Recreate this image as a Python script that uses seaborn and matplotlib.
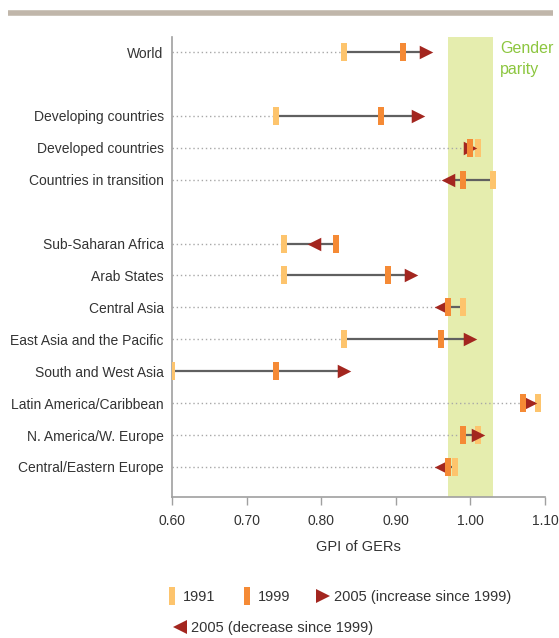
import numpy as np
import pandas as pd
import matplotlib
matplotlib.use("Agg")
import matplotlib.pyplot as plt
from matplotlib.lines import Line2D
import seaborn as sns

# data (GPI of gross enrolment ratios)
regions = ['World', '', 'Developing countries', 'Developed countries',
           'Countries in transition', '', 'Sub-Saharan Africa', 'Arab States',
           'Central Asia', 'East Asia and the Pacific', 'South and West Asia',
           'Latin America/Caribbean', 'N. America/W. Europe',
           'Central/Eastern Europe']
gpi_1991 = [0.83, 0.74, 1.01, 1.03, 0.75, 0.75, 0.99, 0.83, 0.60, 1.09, 1.01, 0.98]
gpi_1999 = [0.91, 0.88, 1.00, 0.99, 0.82, 0.89, 0.97, 0.96, 0.74, 1.07, 0.99, 0.97]
gpi_2005 = [0.94, 0.93, 1.00, 0.97, 0.79, 0.92, 0.96, 1.00, 0.83, 1.08, 1.01, 0.96]
x_ticks = [0.60, 0.70, 0.80, 0.90, 1.00, 1.10]
parity_band = (0.97, 1.03)

# colours
c_1991 = '#fdc46d'
c_1999 = '#f58a35'
c_2005 = '#a3261f'
c_text = '#333333'
c_axis = '#a0a0a0'

sns.set_style('white')
plt.rcParams['font.family'] = ['Liberation Sans', 'DejaVu Sans']

rows = [i for i, r in enumerate(regions) if r]
labels = [r for r in regions if r]
df = pd.DataFrame({'row': rows, 'region': labels,
                   'g1991': gpi_1991, 'g1999': gpi_1999, 'g2005': gpi_2005})
df['up'] = df['g2005'] >= df['g1999']
df['lo'] = df[['g1991', 'g1999', 'g2005']].min(axis=1)
df['hi'] = df[['g1991', 'g1999', 'g2005']].max(axis=1)

bar = [(-0.16, -0.5), (0.16, -0.5), (0.16, 0.5), (-0.16, 0.5)]

fig = plt.figure(figsize=(5.59, 6.38), dpi=100)
ax = fig.add_axes([172 / 559, 1 - 497 / 638, 373 / 559, 460 / 638])

ax.axvspan(*parity_band, color='#e5edae', lw=0, zorder=0)
ax.text(1.04, -0.33, 'Gender\nparity', color='#8cc63f', fontsize=11.5,
        va='top', ha='left', linespacing=1.45)

# dotted guide from the axis, solid range between the years
ax.hlines(df['row'], 0.60, df['lo'], color='#a8a8a8', lw=1,
          linestyles=(0, (1, 2)), zorder=1)
ax.hlines(df['row'], df['lo'], df['hi'], color='#606060', lw=1.6, zorder=2)

sns.scatterplot(data=df, x='g1991', y='row', marker=bar, s=150,
                color=c_1991, linewidth=0, ax=ax, zorder=3)
sns.scatterplot(data=df[df['up']], x='g2005', y='row', marker='>', s=95,
                color=c_2005, linewidth=0, ax=ax, zorder=4)
sns.scatterplot(data=df[~df['up']], x='g2005', y='row', marker='<', s=95,
                color=c_2005, linewidth=0, ax=ax, zorder=4)
sns.scatterplot(data=df, x='g1999', y='row', marker=bar, s=150,
                color=c_1999, linewidth=0, ax=ax, zorder=5)

ax.set_xlim(0.60, 1.10)
ax.set_ylim(13.94, -0.47)
ax.set_xticks(x_ticks)
ax.set_xticklabels([f'{v:.2f}' for v in x_ticks])
ax.set_yticks(df['row'])
ax.set_yticklabels(df['region'])
ax.tick_params(axis='y', length=0, pad=6, labelsize=10, labelcolor=c_text)
ax.tick_params(axis='x', length=6, width=1, color=c_axis, pad=6,
               labelsize=10, labelcolor=c_text, direction='out', bottom=True)
ax.set_xlabel('GPI of GERs', fontsize=10.5, color=c_text, labelpad=9)
ax.set_ylabel('')
for side in ['top', 'right']:
    ax.spines[side].set_visible(False)
for side in ['left', 'bottom']:
    ax.spines[side].set_color(c_axis)
    ax.spines[side].set_linewidth(1.2)

# grey rule across the top of the figure
fig.add_artist(Line2D([8 / 559, 553 / 559], [1 - 13 / 638] * 2,
                      lw=4, color='#c0b6aa', solid_capstyle='butt'))

# legend in two rows
h1991 = Line2D([], [], marker=bar, ls='none', markersize=12.5, color=c_1991, mew=0)
h1999 = Line2D([], [], marker=bar, ls='none', markersize=12.5, color=c_1999, mew=0)
hup = Line2D([], [], marker='>', ls='none', markersize=10, color=c_2005, mew=0)
hdown = Line2D([], [], marker='<', ls='none', markersize=10, color=c_2005, mew=0)

leg_kw = dict(frameon=False, fontsize=10.5, handlelength=0.8, handletextpad=0.35,
              columnspacing=1.8, borderpad=0, borderaxespad=0,
              labelcolor=c_text, loc='center left')
fig.legend([h1991, h1999, hup],
           ['1991', '1999', '2005 (increase since 1999)'],
           ncol=3, bbox_to_anchor=(166 / 559, 1 - 597 / 638), **leg_kw)
fig.legend([hdown], ['2005 (decrease since 1999)'],
           bbox_to_anchor=(174 / 559, 1 - 628 / 638), **leg_kw)

fig.savefig('out.png', dpi=100)
